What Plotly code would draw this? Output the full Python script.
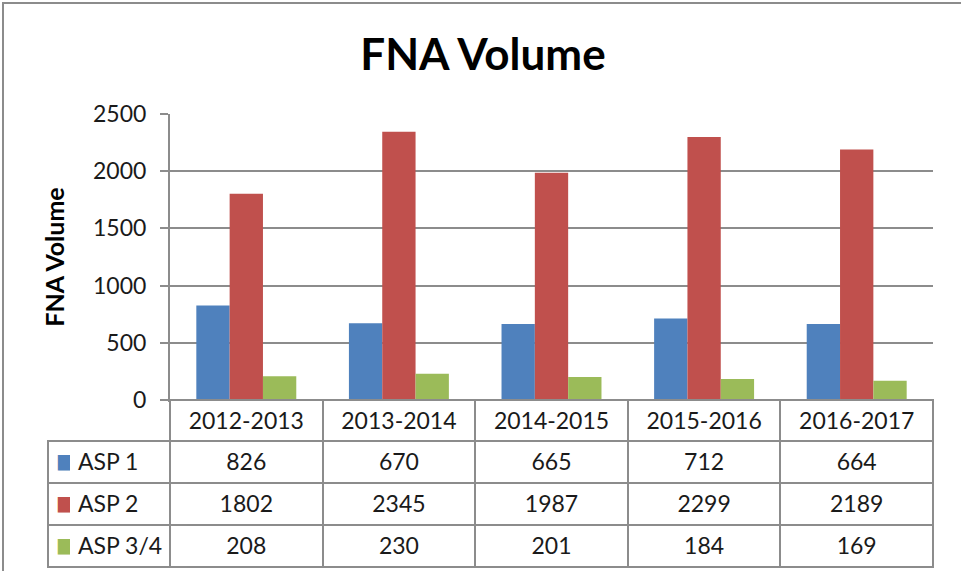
import plotly.graph_objects as go

W, H = 961, 571

categories = ["2012-2013", "2013-2014", "2014-2015", "2015-2016", "2016-2017"]
series_names = ["ASP 1", "ASP 2", "ASP 3/4"]
asp1 = [826, 670, 665, 712, 664]
asp2 = [1802, 2345, 1987, 2299, 2189]
asp34 = [208, 230, 201, 184, 169]
colors = ["#4F81BD", "#C0504D", "#9BBB59"]
y_ticks = [0, 500, 1000, 1500, 2000, 2500]

FONT = "Lato, 'Open Sans', sans-serif"
GRID = "#8c8c8c"
TXT = "#1a1a1a"
CLEAR = "rgba(0,0,0,0)"

# plot area in pixels
px_l, px_r, px_t, px_b = 170, 933, 114, 400
tbl_l = 48
HDR_H, ROW_H = 41, 42
TXT_SHIFT = 4  # text sits a little lower than plotly's default cell padding
n_cat = len(categories)
n_ser = len(series_names)
col_w = (px_r - px_l) / n_cat

fig = go.Figure()
for name, vals, col in zip(series_names, [asp1, asp2, asp34], colors):
    fig.add_trace(go.Bar(x=categories, y=vals, name=name, marker=dict(color=col, line=dict(width=0)),
                         showlegend=False, hoverinfo="x+y+name"))

grid_y = [1 - (px_b + HDR_H + n_ser * ROW_H + 2) / H, 1 - px_b / H]
text_y = [0, 1 - (px_b + TXT_SHIFT) / H]

# table grid (borders only)
fig.add_trace(go.Table(
    domain=dict(x=[tbl_l / W, px_r / W], y=grid_y),
    columnwidth=[px_l - tbl_l] + [col_w] * n_cat,
    header=dict(values=[""] * (n_cat + 1), height=HDR_H,
                fill=dict(color=[CLEAR] + ["white"] * n_cat),
                line=dict(color=[CLEAR] + [GRID] * n_cat, width=2)),
    cells=dict(values=[[""] * n_ser] * (n_cat + 1), height=ROW_H,
               fill=dict(color="white"), line=dict(color=GRID, width=2)),
    hoverinfo="skip",
))
# table values
fig.add_trace(go.Table(
    domain=dict(x=[px_l / W, px_r / W], y=text_y),
    header=dict(values=categories, height=HDR_H, align="center",
                fill=dict(color=CLEAR), line=dict(color=CLEAR, width=0),
                font=dict(family=FONT, size=23, color=TXT)),
    cells=dict(values=[[a, b, c] for a, b, c in zip(asp1, asp2, asp34)], height=ROW_H, align="center",
               fill=dict(color=CLEAR), line=dict(color=CLEAR, width=0),
               font=dict(family=FONT, size=23, color=TXT)),
))
# row labels (non-breaking spaces keep each label on one line)
row_labels = [n.replace(" ", "\u00A0") for n in series_names]
fig.add_trace(go.Table(
    domain=dict(x=[(tbl_l + 22) / W, px_l / W], y=text_y),
    header=dict(values=[""], height=HDR_H, fill=dict(color=CLEAR), line=dict(color=CLEAR, width=0),
                font=dict(size=23)),
    cells=dict(values=[row_labels], height=ROW_H, align="left",
               fill=dict(color=CLEAR), line=dict(color=CLEAR, width=0),
               font=dict(family=FONT, size=23, color=TXT)),
))
# legend keys (coloured squares)
fig.add_trace(go.Table(
    domain=dict(x=[tbl_l / W, (tbl_l + 22) / W], y=text_y),
    header=dict(values=[""], height=HDR_H, fill=dict(color=CLEAR), line=dict(color=CLEAR, width=0),
                font=dict(size=23)),
    cells=dict(values=[["\u25A0"] * n_ser], height=ROW_H, align="left",
               fill=dict(color=CLEAR), line=dict(color=CLEAR, width=0),
               font=dict(family="DejaVu Sans", size=20, color=[colors])),
))

fig.update_layout(
    width=W, height=H,
    margin=dict(l=0, r=0, t=0, b=0, autoexpand=False),
    paper_bgcolor="white", plot_bgcolor="white",
    barmode="group", bargap=0.345, bargroupgap=0,
    title=dict(text="<b>FNA Volume</b>", x=483 / W, xanchor="center", y=1 - 55 / H, yanchor="middle",
               font=dict(family=FONT, size=44, color="black")),
    xaxis=dict(domain=[px_l / W, px_r / W], showticklabels=False, ticks="", automargin=False,
               showline=True, linecolor=GRID, linewidth=2, showgrid=False, zeroline=False),
    yaxis=dict(domain=[1 - px_b / H, 1 - px_t / H], range=[0, 2500], tickvals=y_ticks, automargin=False,
               showgrid=True, gridcolor=GRID, gridwidth=2, zeroline=False,
               showline=True, linecolor=GRID, linewidth=2,
               ticks="outside", ticklen=8, tickwidth=2, tickcolor=GRID,
               ticklabelstandoff=9,
               tickfont=dict(family=FONT, size=23, color=TXT),
               title=dict(text="<b>FNA Volume</b>", font=dict(family=FONT, size=25, color="black"), standoff=21)),
    shapes=[dict(type="rect", xref="paper", yref="paper", x0=3 / W, x1=1.02, y0=-0.02, y1=1 - 3 / H,
                 line=dict(color=GRID, width=2), layer="below")],
)

fig.write_html("out.html", config={"displayModeBar": False},
               post_script="document.body.style.margin='0px';")
